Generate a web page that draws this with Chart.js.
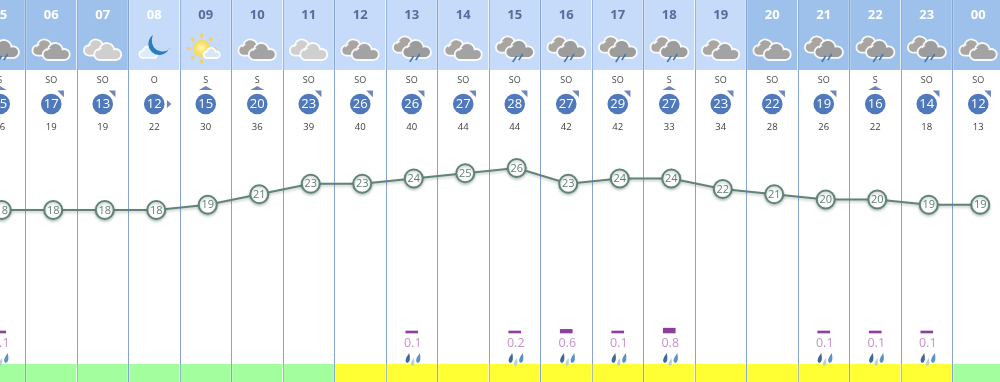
<!DOCTYPE html>
<html>
<head>
<meta charset="utf-8">
<style>
  html, body { margin: 0; padding: 0; background: #fff; overflow: hidden; width: 1000px; height: 382px; }
  #chart { position: absolute; left: -26px; top: 0; }
</style>
<script src="https://cdn.jsdelivr.net/npm/chart.js@4/dist/chart.umd.js"></script>
</head>
<body>
<canvas id="chart" width="1030" height="382"></canvas>
<script>
const hours = ["05","06","07","08","09","10","11","12","13","14","15","16","17","18","19","20","21","22","23","00"];
const temps = [18,18,18,18,19,21,23,23,24,25,26,23,24,24,22,21,20,20,19,19];
const windDirs = ["S","SO","SO","O","S","S","SO","SO","SO","SO","SO","SO","SO","S","SO","SO","SO","S","SO","SO"];
const windSpeeds = [15,17,13,12,15,20,23,26,26,27,28,27,29,27,23,22,19,16,14,12];
const gusts = [26,19,19,22,30,36,39,40,40,44,44,42,42,33,34,28,26,22,18,13];
const rain = [0.1,null,null,null,null,null,null,null,0.1,null,0.2,0.6,0.1,0.8,null,null,0.1,0.1,0.1,null];
const icons = ["rain","cloud","light","moon","sun","cloud","light","cloud","rain","cloud","rain","rain","rain","rain","cloud","cloud","rain","rain","rain","cloud"];
const dayPart = ["night","night","night","day","day","day","day","day","day","day","day","day","day","day","day","night","night","night","night","night"];
const comfort = ["g","g","g","g","g","g","g","y","y","y","y","y","y","y","y","y","y","y","y","g"];

const FONT = '"Open Sans", sans-serif';
const HEADER_BOTTOM = 70;
const COMFORT_TOP = 364;
const whiteHourLabels = ["05","06","07","08","20","21","22","23","00"];
// the temperature line sits about 2px right of the column centres
const TEMP_SHIFT = 2 / 51.5;

function puff(ctx, x, y, s, fill) {
  // one cloud with a white rim
  ctx.beginPath();
  ctx.arc(x - 8 * s, y + 2 * s, 5.5 * s, Math.PI * 0.5, Math.PI * 1.5);
  ctx.arc(x - 1 * s, y - 2 * s, 7.5 * s, Math.PI * 1.05, Math.PI * 1.9);
  ctx.arc(x + 8 * s, y + 2 * s, 5.5 * s, Math.PI * 1.4, Math.PI * 0.5);
  ctx.closePath();
  ctx.fillStyle = fill;
  ctx.strokeStyle = "rgba(255,255,255,0.92)";
  ctx.lineWidth = 1.8;
  ctx.fill();
  ctx.stroke();
}

function drop(ctx, x, y, h, color) {
  ctx.beginPath();
  ctx.moveTo(x + h * 0.2, y - h / 2);
  ctx.quadraticCurveTo(x + h * 0.4, y + h * 0.4, x, y + h / 2);
  ctx.quadraticCurveTo(x - h * 0.4, y + h * 0.3, x + h * 0.2, y - h / 2);
  ctx.fillStyle = color;
  ctx.fill();
}

function weatherIcon(ctx, kind, x) {
  if (kind === "cloud" || kind === "light") {
    const c = kind === "cloud" ? ["#a9a5a1", "#a3a3a3"] : ["#d0cdca", "#cfcfcf"];
    puff(ctx, x - 6, 48.5, 0.95, c[0]);
    puff(ctx, x + 5, 52.5, 1.0, c[1]);
  } else if (kind === "rain") {
    puff(ctx, x - 6, 45.5, 0.95, "#a9a5a1");
    puff(ctx, x + 5, 50, 1.05, "#9c9c9c");
    ctx.strokeStyle = "#3f78b0";
    ctx.lineWidth = 1.5;
    [[x + 2, 56, x - 2, 62], [x + 8, 54, x + 4, 60]].forEach(p => {
      ctx.beginPath();
      ctx.moveTo(p[0], p[1]);
      ctx.lineTo(p[2], p[3]);
      ctx.stroke();
    });
  } else if (kind === "moon") {
    puff(ctx, x - 6, 53, 0.66, "#dcecfc");
    // thin crescent
    ctx.beginPath();
    ctx.arc(x + 5, 44, 11, Math.PI * 0.12, Math.PI * 1.3);
    ctx.arc(x + 8, 41, 10.5, Math.PI * 1.05, Math.PI * 0.22, true);
    ctx.closePath();
    ctx.fillStyle = "#2c7cc0";
    ctx.fill();
  } else if (kind === "sun") {
    const sx = x - 4, sy = 48.5;
    ctx.strokeStyle = "#f2d25a";
    ctx.lineWidth = 3;
    ctx.lineCap = "round";
    for (let i = 0; i < 8; i++) {
      const a = i * Math.PI / 4;
      ctx.beginPath();
      ctx.moveTo(sx + Math.cos(a) * 12.5, sy + Math.sin(a) * 12.5);
      ctx.lineTo(sx + Math.cos(a) * 13.5, sy + Math.sin(a) * 13.5);
      ctx.stroke();
    }
    ctx.lineCap = "butt";
    const g = ctx.createRadialGradient(sx - 1, sy - 1, 1, sx, sy, 8.5);
    g.addColorStop(0, "#fff2a8");
    g.addColorStop(1, "#f7d84e");
    ctx.fillStyle = g;
    ctx.beginPath();
    ctx.arc(sx, sy, 8.5, 0, Math.PI * 2);
    ctx.fill();
    puff(ctx, x + 6, 53.5, 0.6, "#d9e6f4");
  }
}

function windArrow(ctx, dir, x, y) {
  ctx.fillStyle = "#6d87b8";
  ctx.beginPath();
  if (dir === "SO") {
    ctx.moveTo(x + 6, y - 13.5);
    ctx.lineTo(x + 12.7, y - 13.5);
    ctx.lineTo(x + 12.7, y - 6.7);
  } else if (dir === "S") {
    ctx.moveTo(x, y - 18);
    ctx.lineTo(x + 7, y - 14);
    ctx.lineTo(x - 7, y - 14);
  } else {
    ctx.moveTo(x + 12.7, y - 4);
    ctx.lineTo(x + 17, y);
    ctx.lineTo(x + 12.7, y + 4);
  }
  ctx.closePath();
  ctx.fill();
}

const lineShadow = {
  id: "lineShadow",
  beforeDatasetDraw(chart, args) {
    if (args.meta.type !== "line") return;
    const ctx = chart.ctx;
    ctx.save();
    ctx.shadowColor = "rgba(70,90,85,0.35)";
    ctx.shadowBlur = 3;
    ctx.shadowOffsetY = 1.5;
  },
  afterDatasetDraw(chart, args) {
    if (args.meta.type === "line") chart.ctx.restore();
  }
};

const rows = {
  id: "rows",
  afterDatasetsDraw(chart) {
    const ctx = chart.ctx;
    const xs = chart.scales.x;
    const xt = chart.scales.xTemp;
    const ys = chart.scales.yTemp;
    ctx.save();
    ctx.textAlign = "center";
    ctx.textBaseline = "middle";
    hours.forEach((h, i) => {
      const x = xs.getPixelForValue(i);

      ctx.font = "bold 13px " + FONT;
      ctx.fillStyle = whiteHourLabels.includes(h) ? "#ffffff" : "#566c9f";
      ctx.fillText(h, x, 15.5);

      weatherIcon(ctx, icons[i], x);

      ctx.font = "9px " + FONT;
      ctx.fillStyle = "#4a4a4a";
      ctx.fillText(windDirs[i], x, 80);

      windArrow(ctx, windDirs[i], x, 104);
      ctx.beginPath();
      ctx.arc(x, 104, 10.3, 0, Math.PI * 2);
      ctx.fillStyle = "#5079bb";
      ctx.fill();
      ctx.font = "13px " + FONT;
      ctx.fillStyle = "#ffffff";
      ctx.fillText(windSpeeds[i], x, 104.5);

      ctx.font = "9.5px " + FONT;
      ctx.fillStyle = "#3c3c3c";
      ctx.fillText(gusts[i], x, 127);

      ctx.font = "11px " + FONT;
      ctx.fillStyle = "#5f7f74";
      ctx.fillText(temps[i], xt.getPixelForValue(i), ys.getPixelForValue(temps[i]) + 0.5);

      if (rain[i] !== null) {
        ctx.font = "12.5px " + FONT;
        ctx.fillStyle = "#c493cc";
        ctx.fillText(rain[i].toFixed(1), x + 1, 343);
        drop(ctx, x - 4.5, 358, 10, "#3d6a96");
        drop(ctx, x + 0.5, 362, 8, "#b5cfdc");
        drop(ctx, x + 6, 358, 10, "#5c93c4");
      }
    });
    ctx.restore();
  }
};

new Chart(document.getElementById("chart"), {
  type: "bar",
  data: {
    labels: hours,
    datasets: [
      {
        type: "line",
        data: temps.map((t, i) => ({ x: i, y: t })),
        xAxisID: "xTemp",
        yAxisID: "yTemp",
        order: 0,
        borderColor: "#62837a",
        borderWidth: 2.2,
        tension: 0,
        pointRadius: 9,
        pointBorderWidth: 2,
        pointBorderColor: "#5f8474",
        pointBackgroundColor: "#ffffff"
      },
      {
        data: rain,
        yAxisID: "yRain",
        order: 1,
        grouped: false,
        barThickness: 12,
        minBarLength: 2,
        backgroundColor: "#8e3f9d"
      },
      {
        data: hours.map(() => [0, HEADER_BOTTOM]),
        yAxisID: "yBand",
        order: 2,
        grouped: false,
        barPercentage: 0.972,
        categoryPercentage: 1,
        backgroundColor: dayPart.map(p => p === "day" ? "#c6dbf9" : "#9dc1ea")
      },
      {
        data: hours.map(() => [COMFORT_TOP, 382]),
        yAxisID: "yBand",
        order: 2,
        grouped: false,
        barPercentage: 0.972,
        categoryPercentage: 1,
        backgroundColor: comfort.map(c => c === "g" ? "#a3ff9e" : "#ffff33")
      }
    ]
  },
  options: {
    responsive: false,
    animation: false,
    layout: { padding: 0, autoPadding: false },
    plugins: { legend: { display: false }, tooltip: { enabled: false } },
    scales: {
      x: {
        offset: true,
        border: { display: false },
        grid: { offset: true, color: "#87a5d4", lineWidth: 1, drawTicks: false, tickLength: 0 },
        ticks: { display: false }
      },
      xTemp: { type: "linear", display: false, offset: false, min: -0.5 - TEMP_SHIFT, max: 19.5 - TEMP_SHIFT },
      yTemp: { display: false, min: -14.76, max: 58 },
      yRain: { display: false, min: -8.17, max: 55.5 },
      yBand: { display: false, reverse: true, min: 0, max: 382 }
    }
  },
  plugins: [lineShadow, rows]
});
</script>
</body>
</html>
